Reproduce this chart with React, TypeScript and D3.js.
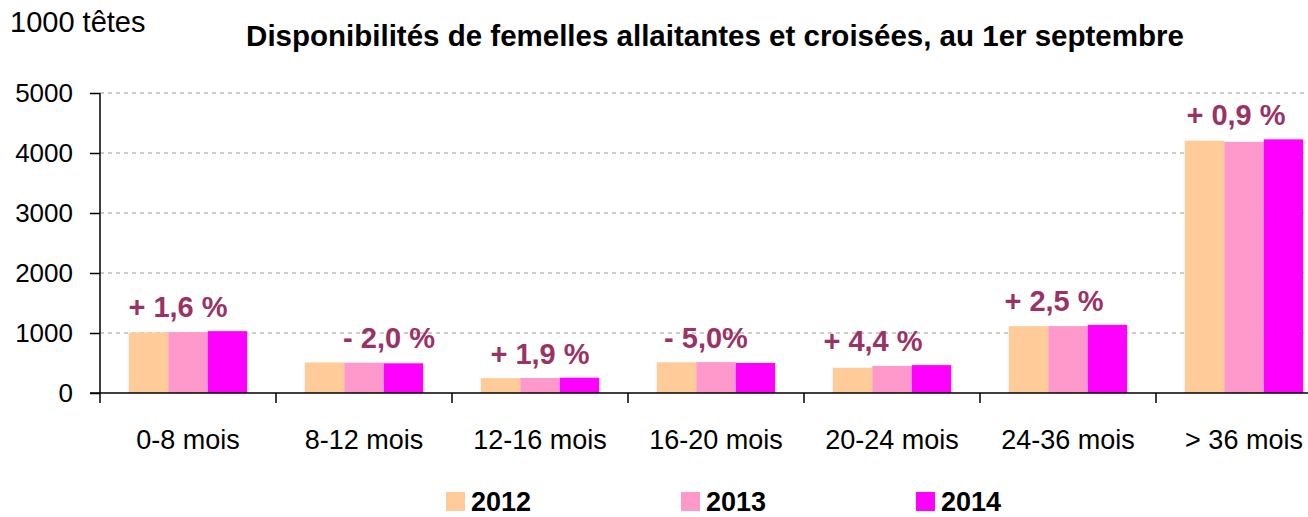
import React, { useEffect, useRef } from "react";
import * as d3 from "d3";

// categories and series
const categories = ["0-8 mois", "8-12 mois", "12-16 mois", "16-20 mois", "20-24 mois", "24-36 mois", "> 36 mois"];
const years = ["2012", "2013", "2014"];
const values2012 = [1010, 510, 248, 512, 420, 1115, 4205];
const values2013 = [1015, 505, 250, 515, 450, 1115, 4185];
const values2014 = [1031, 495, 255, 500, 465, 1135, 4228];
const changeLabels = ["+ 1,6 %", "- 2,0 %", "+ 1,9 %", "- 5,0%", "+ 4,4 %", "+ 2,5 %", "+ 0,9 %"];
const yTicks = [0, 1000, 2000, 3000, 4000, 5000];

const colors = ["#FFCC99", "#FF99CC", "#FF00FF"];
const labelNudge = [-10, 25, 0, -10, -19, -14, -8];
const FONT = "'Liberation Sans', Arial, sans-serif";

export default function App() {
  const ref = useRef<SVGSVGElement>(null);

  useEffect(() => {
    const svg = d3.select(ref.current);
    svg.selectAll("*").remove();

    const width = 1308;
    const height = 517;
    const margin = { top: 93, left: 100, bottom: 124, right: -24 };

    const series = [values2012, values2013, values2014];

    const x0 = d3.scaleBand()
      .domain(categories)
      .range([margin.left, width - margin.right])
      .padding(0);

    const x1 = d3.scaleBand()
      .domain(years)
      .range([0, x0.bandwidth()])
      .paddingInner(0)
      .paddingOuter(0.73);

    const y = d3.scaleLinear()
      .domain([0, 5000])
      .range([height - margin.bottom, margin.top]);

    // gridlines
    svg.append("g")
      .selectAll("line")
      .data(yTicks.filter(d => d > 0))
      .enter()
      .append("line")
      .attr("x1", margin.left)
      .attr("x2", width)
      .attr("y1", d => y(d))
      .attr("y2", d => y(d))
      .attr("stroke", "#BBBBBB")
      .attr("stroke-width", 1.5)
      .attr("stroke-dasharray", "4,4");

    // bars
    categories.forEach((c, i) => {
      const g = svg.append("g").attr("transform", `translate(${x0(c)},0)`);
      years.forEach((yr, j) => {
        const v = series[j][i];
        g.append("rect")
          .attr("x", x1(yr)!)
          .attr("y", y(v))
          .attr("width", x1.bandwidth())
          .attr("height", y(0) - y(v))
          .attr("fill", colors[j]);
      });
      const top = d3.max(series, s => s[i])!;
      svg.append("text")
        .attr("x", x0(c)! + x0.bandwidth() / 2 + labelNudge[i])
        .attr("y", y(top) - 14)
        .attr("text-anchor", "middle")
        .attr("font-family", FONT)
        .attr("font-weight", "bold")
        .attr("font-size", 29)
        .attr("fill", "#993366")
        .text(changeLabels[i]);
    });

    // y axis
    const yAxis = svg.append("g")
      .attr("transform", `translate(${margin.left},0)`)
      .call(d3.axisLeft(y).tickValues(yTicks).tickSize(10).tickPadding(17).tickFormat(d3.format("d")));
    yAxis.select(".domain").attr("stroke", "#000").attr("stroke-width", 1.5).attr("d", `M0,${y(5000)}V${y(0) + 10}`);
    yAxis.selectAll(".tick line").attr("stroke", "#000").attr("stroke-width", 1.5);
    yAxis.selectAll("text").attr("font-family", FONT).attr("font-size", 26).attr("fill", "#000");

    // x axis
    const xAxis = svg.append("g")
      .attr("transform", `translate(0,${y(0)})`);
    xAxis.append("line")
      .attr("x1", margin.left - 10).attr("x2", width)
      .attr("stroke", "#000").attr("stroke-width", 1.5);
    xAxis.selectAll(".cat-tick")
      .data(categories.slice(1))
      .enter()
      .append("line")
      .attr("x1", d => x0(d)!)
      .attr("x2", d => x0(d)!)
      .attr("y2", 10)
      .attr("stroke", "#000").attr("stroke-width", 1.5);
    xAxis.selectAll(".cat-label")
      .data(categories)
      .enter()
      .append("text")
      .attr("x", d => x0(d)! + x0.bandwidth() / 2)
      .attr("y", 56)
      .attr("text-anchor", "middle")
      .attr("font-family", FONT)
      .attr("font-size", 27)
      .text(d => d);

    // title and unit
    svg.append("text")
      .attr("x", 715).attr("y", 46)
      .attr("text-anchor", "middle")
      .attr("font-family", FONT)
      .attr("font-weight", "bold")
      .attr("font-size", 29.5)
      .text("Disponibilités de femelles allaitantes et croisées, au 1er septembre");
    svg.append("text")
      .attr("x", 10).attr("y", 32)
      .attr("font-family", FONT)
      .attr("font-size", 29)
      .text("1000 têtes");

    // legend
    const legend = svg.append("g").attr("transform", "translate(446,492)");
    years.forEach((yr, j) => {
      const lg = legend.append("g").attr("transform", `translate(${j * 235},0)`);
      lg.append("rect").attr("width", 19).attr("height", 19).attr("fill", colors[j]);
      lg.append("text")
        .attr("x", 25).attr("y", 19)
        .attr("font-family", FONT)
        .attr("font-weight", "bold")
        .attr("font-size", 27)
        .text(yr);
    });
  }, []);

  return (
    <svg ref={ref} width={1308} height={517}
      style={{ position: "absolute", left: 0, top: 0, background: "#fff" }} />
  );
}
